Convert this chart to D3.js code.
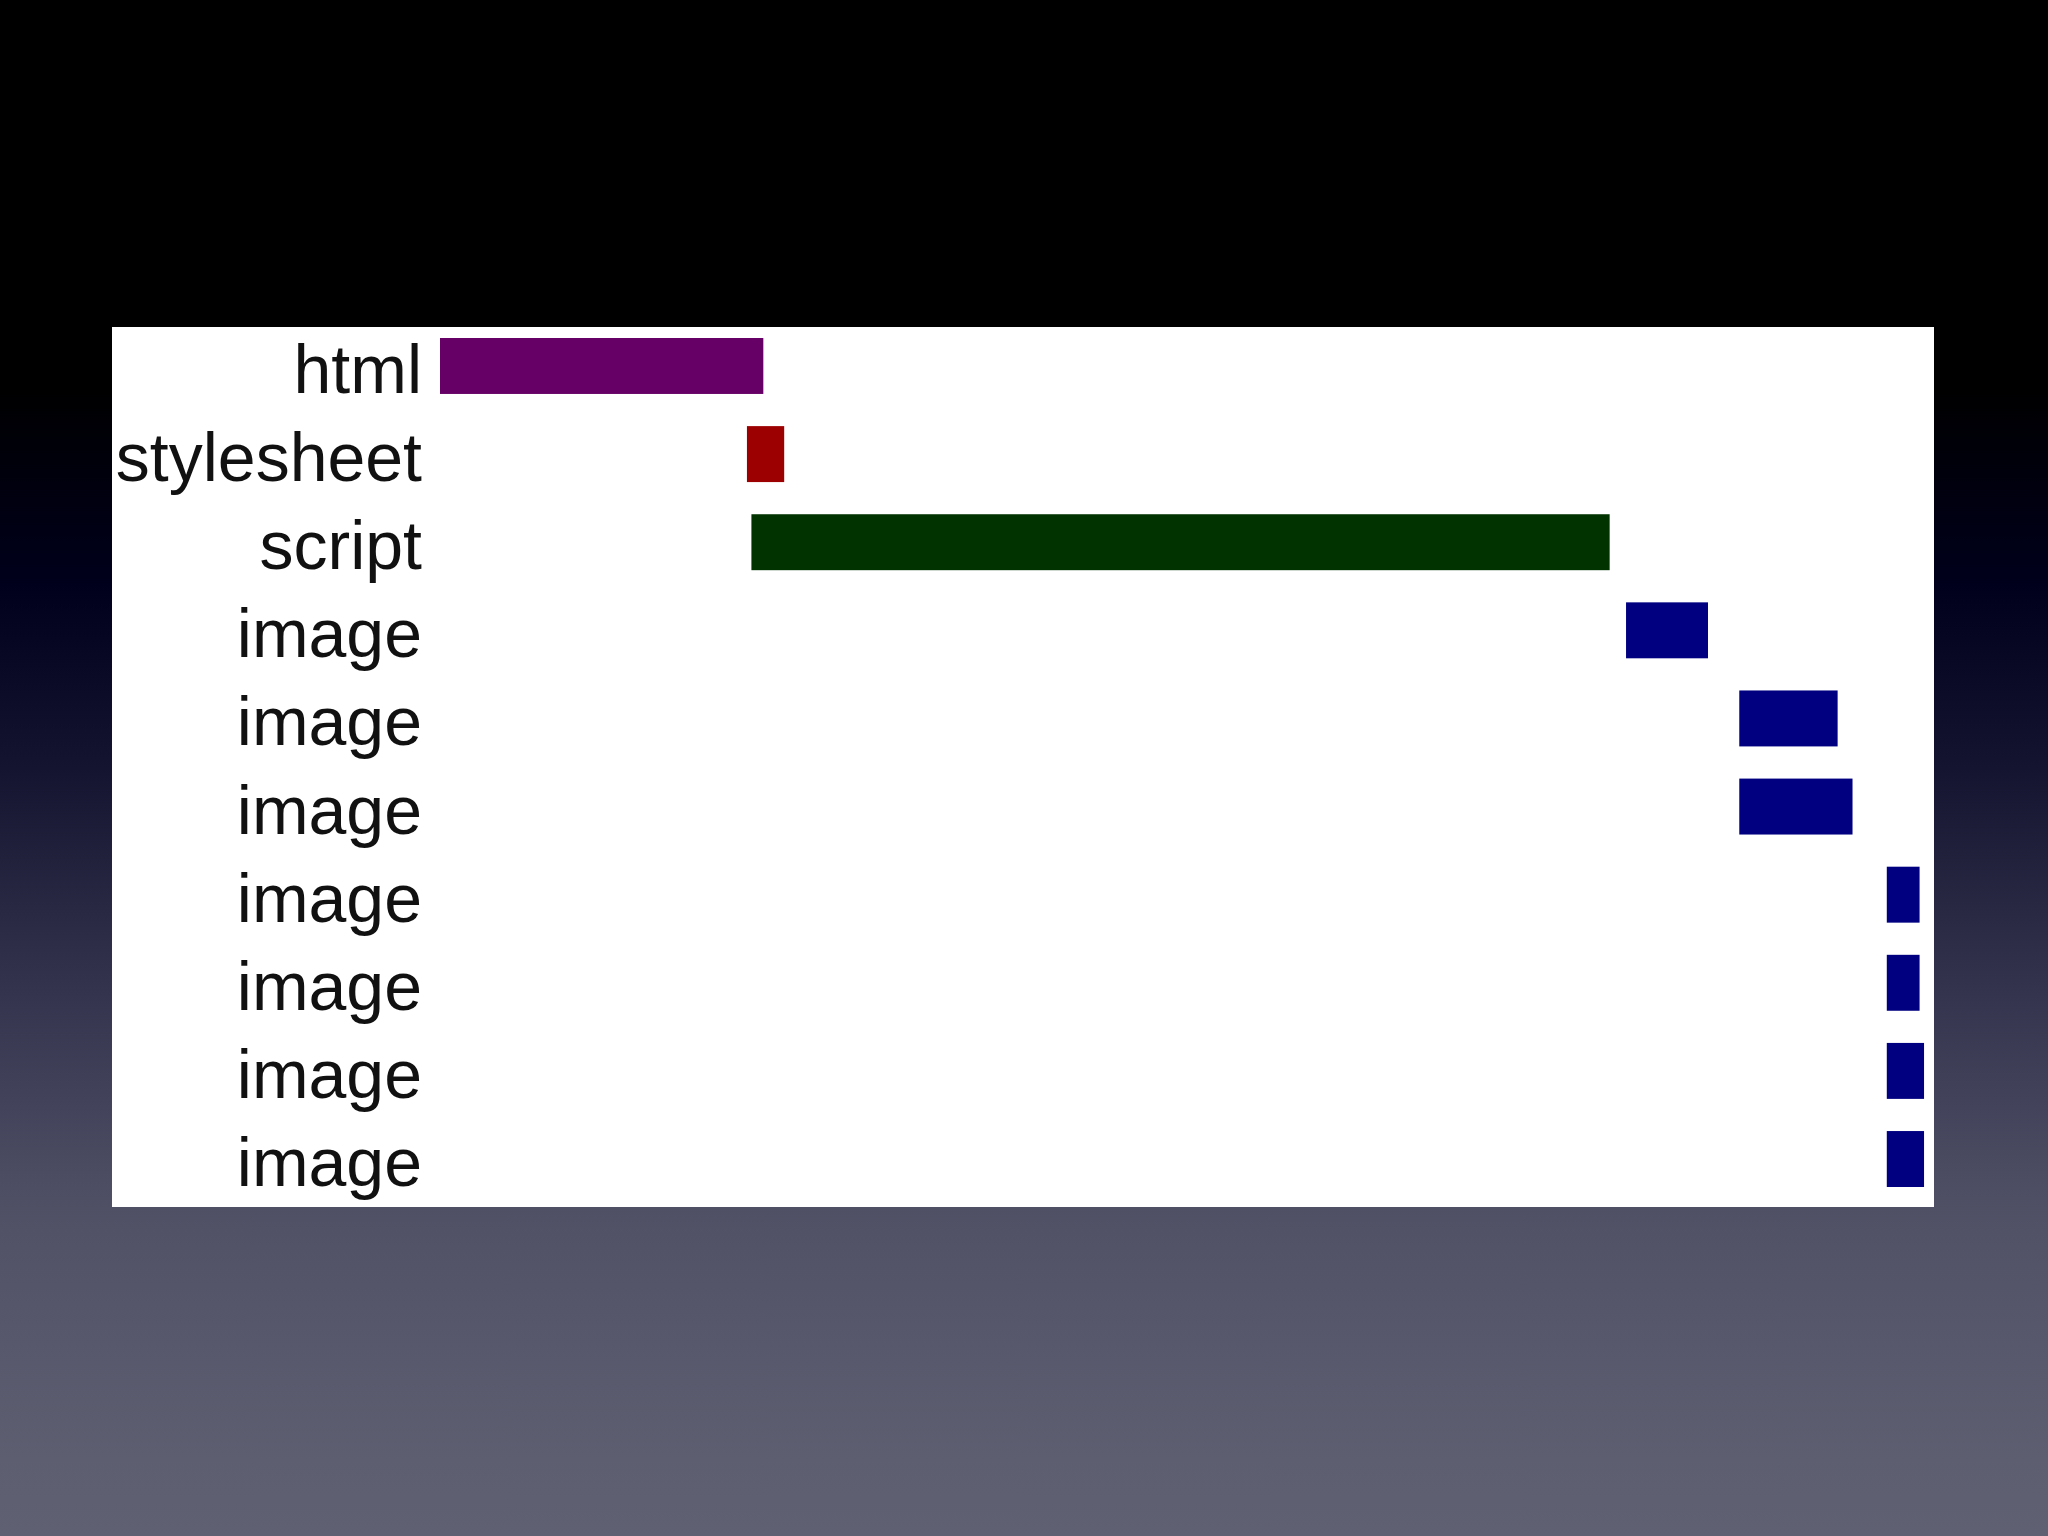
<!DOCTYPE html>
<html>
<head>
<meta charset="utf-8">
<script src="https://cdn.jsdelivr.net/npm/d3@7"></script>
<style>
  html, body { margin: 0; padding: 0; background: #000; }
  svg { display: block; }
</style>
</head>
<body>
<svg></svg>
<script>
// request waterfall: one row per request, start/end in ms
var labels = ["html", "stylesheet", "script", "image", "image", "image", "image", "image", "image", "image"]
var starts = [0, 206, 209, 796, 872, 872, 971, 971, 971, 971]
var ends   = [217, 231, 785, 851, 938, 948, 993, 993, 996, 996]
var typeNames  = ["html", "stylesheet", "script", "image"]
var typeColors = ["#660066", "#9c0000", "#003300", "#000080"]

var width = 2048
var height = 1536

var rows = labels.map(function(d, i) {
    return { i: i, label: d, start: starts[i], end: ends[i] }
})

var svg = d3.select("svg")
    .attr("width", width)
    .attr("height", height)

// slide background
var defs = svg.append("defs")
var grad = defs.append("linearGradient")
    .attr("id", "bg")
    .attr("x1", 0).attr("y1", 0)
    .attr("x2", 0).attr("y2", 1)
var stops = [
    [0, "#000000"], [0.25, "#000000"], [0.38, "#00001c"], [0.5, "#141430"],
    [0.6, "#2a2a45"], [0.7, "#3f3f58"], [0.8, "#525267"], [0.95, "#5e5e71"], [1, "#606073"]
]
grad.selectAll("stop")
    .data(stops)
    .enter().append("stop")
    .attr("offset", function(d) { return d[0] })
    .attr("stop-color", function(d) { return d[1] })

svg.append("rect")
    .attr("width", width)
    .attr("height", height)
    .attr("fill", "url(#bg)")

// white chart panel
svg.append("rect")
    .attr("x", 112)
    .attr("y", 327)
    .attr("width", 1822)
    .attr("height", 880)
    .attr("fill", "#ffffff")

var x = d3.scaleLinear()
    .domain([0, 1000])
    .range([440, 1930])

var y = d3.scaleBand()
    .domain(rows.map(function(d) { return d.i }))
    .range([338, 1187])
    .paddingInner(0.365)
    .paddingOuter(0)

var color = d3.scaleOrdinal()
    .domain(typeNames)
    .range(typeColors)

var g = svg.append("g")

g.append("g")
    .attr("class", "bars")
    .selectAll("rect")
    .data(rows)
    .enter().append("rect")
    .attr("x", function(d) { return x(d.start) })
    .attr("y", function(d) { return y(d.i) })
    .attr("width", function(d) { return x(d.end) - x(d.start) })
    .attr("height", y.bandwidth())
    .attr("fill", function(d) { return color(d.label) })

g.append("g")
    .attr("class", "labels")
    .selectAll("text")
    .data(rows)
    .enter().append("text")
    .attr("x", 422)
    .attr("y", function(d) { return y(d.i) + y.bandwidth() - 1 })
    .attr("text-anchor", "end")
    .style("font-family", "'Liberation Sans', Arial, sans-serif")
    .style("font-size", "68px")
    .style("fill", "#111")
    .text(function(d) { return d.label })
</script>
</body>
</html>
